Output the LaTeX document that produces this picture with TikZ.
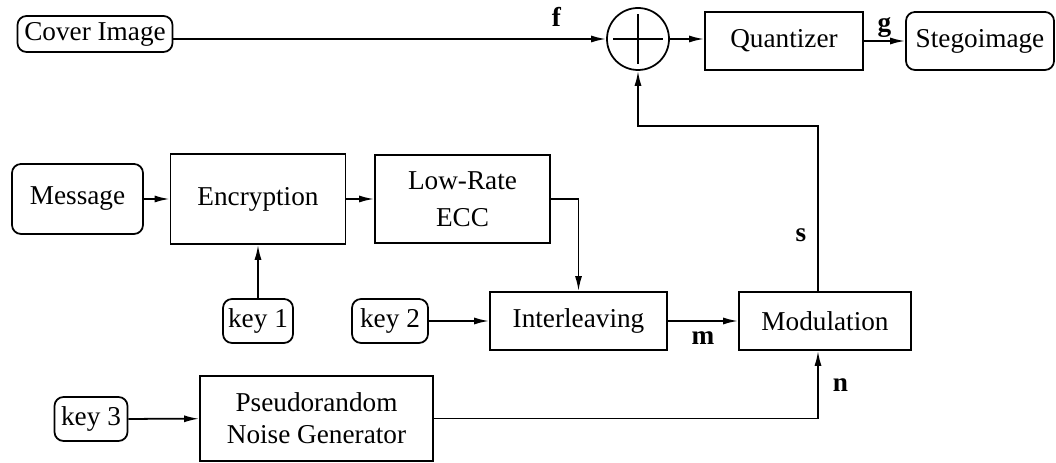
\documentclass[tikz,border=0pt]{standalone}
\usepackage{fontspec}
\setmainfont{Liberation Serif}
\usetikzlibrary{arrows.meta}

\begin{document}
\begin{tikzpicture}[x=0.2mm, y=-0.2mm, line width=1pt,
  >={Latex[length=3mm,width=1.4mm]},
  font=\fontsize{15.5}{18}\selectfont,
  blk/.style={draw, rectangle, align=center, inner sep=0pt},
  rblk/.style={blk, rounded corners=1.8mm},
  lbl/.style={font=\fontsize{15.5}{18}\selectfont\bfseries, inner sep=0pt}]
\useasboundingbox (0,0) rectangle (1056,463);

% 上段
\node[rblk, minimum width=31mm, minimum height=7.2mm] (cover) at (95,34) {Cover Image};
\node[draw, circle, minimum size=12.4mm, inner sep=0pt] (sum) at (638,39) {};
\draw ([yshift=-1.4mm]sum.north) -- ([yshift=1.4mm]sum.south);
\draw ([xshift=1.4mm]sum.west) -- ([xshift=-1.4mm]sum.east);
\node[blk, minimum width=31.6mm, minimum height=11.6mm] (quant) at (784,41) {Quantizer};
\node[rblk, minimum width=29.6mm, minimum height=11.6mm] (stego) at (980,41) {Stegoimage};

\draw[->] (sum.west -| cover.east) -- (sum.west) node[lbl, pos=0.885, above=2.4mm] {f};
\draw[->] (sum.east) -- (sum.east -| quant.west);
\draw[->] (quant) -- (stego) node[lbl, midway, above=0.6mm] {g};

% 中段
\node[rblk, minimum width=26.2mm, minimum height=14mm] (msg) at (77.5,199) {Message};
\node[blk, minimum width=35mm, minimum height=18mm] (enc) at (258,199) {Encryption};
\node[blk, minimum width=35mm, minimum height=17.6mm] (ecc) at (462.5,199) {Low-Rate\\[3pt]ECC};
\node[rblk, minimum width=14mm, minimum height=8.8mm] (key1) at (258,321) {key 1};
\node[rblk, minimum width=15.2mm, minimum height=8.8mm] (key2) at (390,321) {key 2};
\node[blk, minimum width=35.4mm, minimum height=11.6mm] (inter) at (578.5,321) {Interleaving};
\node[blk, minimum width=34.4mm, minimum height=11.6mm] (mod) at (825,321) {Modulation};

\draw[->] (msg) -- (enc);
\draw[->] (enc) -- (ecc);
\draw[->] (ecc.east) -| (inter.north);
\draw[->] (key1) -- (enc);
\draw[->] (key2) -- (inter);
\draw[->] (inter) -- (mod) node[lbl, midway, below=2mm] {m};
\draw[->] ([xshift=-1.4mm]mod.north) -- node[lbl, pos=0.34, left=2.2mm] {s} ++(0,-165) -| (sum.south);

% 下段
\node[rblk, minimum width=14.6mm, minimum height=8.8mm] (key3) at (91,419) {key 3};
\node[blk, minimum width=46.6mm, minimum height=17mm] (noise) at (316.5,418.5) {Pseudorandom\\Noise Generator};

\draw[->] (key3) -- (noise);
\draw[->] (noise.east) -| ([xshift=-1.4mm]mod.south) node[lbl, pos=0.75, right=2.8mm] {n};

\end{tikzpicture}
\end{document}
